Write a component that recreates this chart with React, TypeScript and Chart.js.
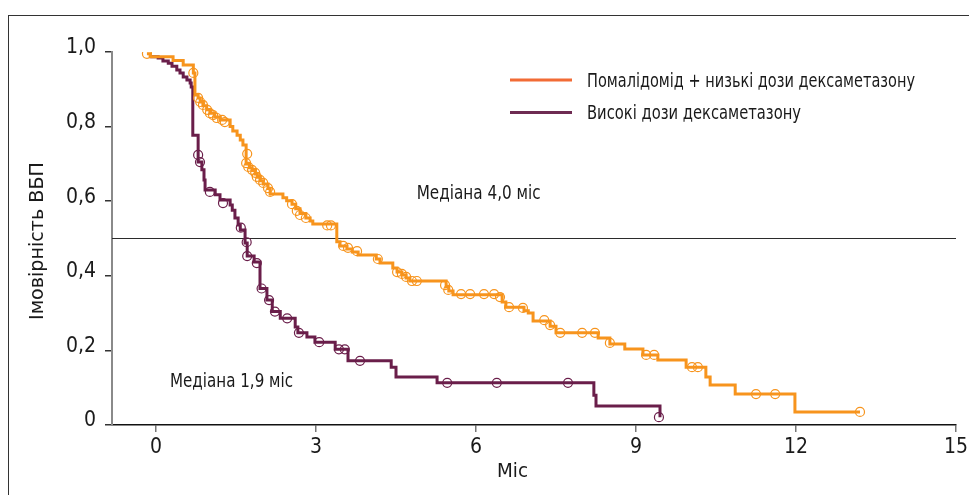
import React, { useEffect, useRef } from "react";
import { Chart, registerables } from "chart.js";

Chart.register(...registerables);

const FONT = "'Liberation Sans Narrow', 'DejaVu Sans Condensed', 'Liberation Sans', sans-serif";

// ---- axes ----
const xAxisMin = -0.825;
const xAxisMax = 15;
const xTickValues = [0, 3, 6, 9, 12, 15];
const yTickValues = [0, 0.2, 0.4, 0.6, 0.8, 1.0];
const yTickLabels = ["0", "0,2", "0,4", "0,6", "0,8", "1,0"];
const medianLevel = 0.5;

// ---- texts ----
const seriesNames = ["Помалідомід + низькі дози дексаметазону", "Високі дози дексаметазону"];
const medianNotes = ["Медіана 4,0 міс", "Медіана 1,9 міс"];
const xTitle = "Міс";
const yTitle = "Імовірність ВБП";

// ---- Pomalidomide + low-dose dexamethasone (step curve) ----
const pomTimes = [-0.17, -0.11, 0.32, 0.51, 0.70, 0.73, 0.79, 0.83, 0.88, 0.95, 1.01, 1.10, 1.20, 1.39, 1.44, 1.52, 1.58, 1.63, 1.69, 1.75, 1.80, 1.86, 1.90, 1.95, 2.01, 2.10, 2.14, 2.38, 2.45, 2.55, 2.62, 2.70, 2.81, 2.89, 2.94, 3.39, 3.45, 3.58, 3.68, 3.79, 4.13, 4.20, 4.44, 4.52, 4.61, 4.69, 4.76, 5.44, 5.49, 5.57, 6.49, 6.56, 6.90, 6.98, 7.07, 7.39, 7.50, 8.29, 8.51, 8.79, 9.13, 9.41, 9.94, 10.31, 10.39, 10.86, 11.98, 13.20];
const pomSurv = [0.995, 0.987, 0.977, 0.965, 0.944, 0.885, 0.877, 0.866, 0.856, 0.845, 0.836, 0.826, 0.818, 0.800, 0.788, 0.777, 0.764, 0.751, 0.700, 0.690, 0.682, 0.673, 0.664, 0.655, 0.646, 0.634, 0.619, 0.609, 0.601, 0.592, 0.580, 0.567, 0.555, 0.547, 0.539, 0.491, 0.480, 0.472, 0.464, 0.456, 0.445, 0.434, 0.421, 0.410, 0.402, 0.394, 0.386, 0.370, 0.359, 0.349, 0.330, 0.316, 0.306, 0.300, 0.279, 0.265, 0.247, 0.233, 0.217, 0.204, 0.188, 0.174, 0.155, 0.129, 0.107, 0.083, 0.035, 0.035];
const pomCensorTimes = [-0.17, 0.70, 0.79, 0.83, 0.88, 0.96, 1.01, 1.07, 1.14, 1.24, 1.29, 1.71, 1.69, 1.73, 1.80, 1.86, 1.89, 1.95, 2.01, 2.10, 2.14, 2.55, 2.64, 2.70, 2.81, 3.21, 3.28, 3.51, 3.60, 3.77, 4.16, 4.52, 4.61, 4.69, 4.80, 4.89, 5.42, 5.48, 5.72, 5.89, 6.15, 6.34, 6.45, 6.62, 6.88, 7.28, 7.39, 7.58, 7.99, 8.23, 8.51, 9.19, 9.34, 10.05, 10.16, 11.25, 11.61, 13.20];
const pomCensorSurv = [0.995, 0.944, 0.877, 0.866, 0.858, 0.845, 0.836, 0.831, 0.823, 0.818, 0.812, 0.727, 0.702, 0.692, 0.684, 0.676, 0.665, 0.657, 0.649, 0.635, 0.625, 0.592, 0.574, 0.563, 0.555, 0.535, 0.535, 0.480, 0.475, 0.466, 0.445, 0.410, 0.405, 0.397, 0.386, 0.386, 0.375, 0.362, 0.351, 0.351, 0.351, 0.351, 0.343, 0.316, 0.314, 0.281, 0.268, 0.247, 0.247, 0.247, 0.220, 0.188, 0.188, 0.155, 0.155, 0.083, 0.083, 0.035];

// ---- High-dose dexamethasone (step curve) ----
const dexTimes = [-0.11, 0.04, 0.13, 0.23, 0.30, 0.39, 0.45, 0.51, 0.58, 0.64, 0.66, 0.69, 0.79, 0.86, 0.90, 0.92, 1.11, 1.20, 1.39, 1.43, 1.48, 1.54, 1.58, 1.67, 1.71, 1.84, 1.95, 2.08, 2.18, 2.33, 2.61, 2.66, 2.83, 2.98, 3.36, 3.60, 4.41, 4.50, 5.27, 8.21, 8.25, 9.45];
const dexSurv = [0.987, 0.984, 0.976, 0.970, 0.962, 0.952, 0.944, 0.933, 0.925, 0.917, 0.906, 0.777, 0.705, 0.684, 0.657, 0.630, 0.617, 0.603, 0.590, 0.576, 0.555, 0.536, 0.523, 0.488, 0.453, 0.437, 0.366, 0.335, 0.304, 0.286, 0.263, 0.247, 0.236, 0.222, 0.203, 0.172, 0.155, 0.129, 0.113, 0.080, 0.051, 0.021];
const dexCensorTimes = [0.79, 0.825, 1.01, 1.256, 1.59, 1.70, 1.71, 1.89, 1.98, 2.12, 2.23, 2.46, 2.68, 3.06, 3.43, 3.54, 3.825, 5.46, 6.39, 7.725, 9.43];
const dexCensorSurv = [0.724, 0.705, 0.625, 0.595, 0.529, 0.490, 0.453, 0.434, 0.366, 0.335, 0.304, 0.286, 0.247, 0.222, 0.203, 0.203, 0.172, 0.113, 0.113, 0.113, 0.021];

// ---- colours ----
const ORANGE = "#F7941D";
const ORANGE_LEGEND = "#F26B35";
const PURPLE = "#6A1E4A";
const PURPLE_LEGEND = "#6E2B52";
const INK = "#1a1a1a";

const toPoints = (xs: number[], ys: number[]) => xs.map((x, i) => ({ x, y: ys[i] }));

function fitText(
  ctx: CanvasRenderingContext2D,
  text: string,
  x: number,
  baseline: number,
  width: number,
  size: number,
  rotate = 0
) {
  ctx.save();
  ctx.font = `${size}px ${FONT}`;
  ctx.fillStyle = INK;
  ctx.textAlign = "left";
  ctx.textBaseline = "alphabetic";
  const w = ctx.measureText(text).width;
  ctx.translate(x, baseline);
  if (rotate) ctx.rotate(rotate);
  ctx.scale(width / w, 1);
  ctx.fillText(text, 0, 0);
  ctx.restore();
}

const decorPlugin = {
  id: "decor",
  afterDraw(chart: any) {
    const ctx: CanvasRenderingContext2D = chart.ctx;
    // legend
    ctx.save();
    ctx.lineWidth = 3;
    ctx.strokeStyle = ORANGE_LEGEND;
    ctx.beginPath();
    ctx.moveTo(502, 72);
    ctx.lineTo(564, 72);
    ctx.stroke();
    ctx.strokeStyle = PURPLE_LEGEND;
    ctx.beginPath();
    ctx.moveTo(502, 104.5);
    ctx.lineTo(564, 104.5);
    ctx.stroke();
    ctx.restore();
    fitText(ctx, seriesNames[0], 579, 78.7, 328, 19);
    fitText(ctx, seriesNames[1], 579, 111, 214, 19);
    // median notes
    fitText(ctx, medianNotes[0], 408.7, 191.3, 124, 19);
    fitText(ctx, medianNotes[1], 162, 378.7, 123, 19);
    // axis titles
    fitText(ctx, xTitle, 489, 469, 31, 19);
    fitText(ctx, yTitle, 35, 312, 158, 19, -Math.PI / 2);
  },
};

export default function App() {
  const ref = useRef<HTMLCanvasElement>(null);
  useEffect(() => {
    const canvas = ref.current!;
    const chart = new Chart(canvas, {
      type: "line",
      data: {
        datasets: [
          {
            label: "median",
            data: [{ x: xAxisMin, y: medianLevel }, { x: xAxisMax, y: medianLevel }],
            borderColor: "#2b2b2b",
            borderWidth: 1,
            pointRadius: 0,
            order: 10,
          },
          {
            label: seriesNames[1],
            data: toPoints(dexTimes, dexSurv),
            stepped: "before",
            borderColor: PURPLE,
            borderWidth: 3,
            pointRadius: 0,
            order: 6,
          },
          {
            label: seriesNames[0],
            data: toPoints(pomTimes, pomSurv),
            stepped: "before",
            borderColor: ORANGE,
            borderWidth: 3,
            pointRadius: 0,
            order: 5,
          },
          {
            label: "dex censored",
            data: toPoints(dexCensorTimes, dexCensorSurv),
            showLine: false,
            pointStyle: "circle",
            pointRadius: 4.5,
            pointBorderWidth: 1.2,
            pointBorderColor: PURPLE,
            pointBackgroundColor: "rgba(0,0,0,0)",
            order: 2,
          },
          {
            label: "pom censored",
            data: toPoints(pomCensorTimes, pomCensorSurv),
            showLine: false,
            pointStyle: "circle",
            pointRadius: 4.5,
            pointBorderWidth: 1.2,
            pointBorderColor: ORANGE,
            pointBackgroundColor: "rgba(0,0,0,0)",
            order: 1,
          },
        ] as any,
      },
      options: {
        animation: false,
        responsive: false,
        devicePixelRatio: 1,
        events: [],
        layout: { padding: { left: 0, top: 44, right: 13, bottom: 0 } },
        plugins: { legend: { display: false }, tooltip: { enabled: false } },
        elements: { line: { tension: 0 } },
        scales: {
          x: {
            type: "linear",
            min: xAxisMin,
            max: xAxisMax,
            afterBuildTicks: (s: any) => {
              s.ticks = xTickValues.map((v) => ({ value: v }));
            },
            afterFit: (s: any) => {
              s.height = 70;
              s.paddingLeft = 0;
              s.paddingRight = 0;
            },
            grid: { display: true, drawOnChartArea: false, drawTicks: true, tickLength: 7, color: "#777", lineWidth: 1.5 },
            border: { display: true, color: "#111", width: 1.5 },
            ticks: {
              font: { family: FONT, size: 21 },
              color: INK,
              padding: 3,
              maxRotation: 0,
              autoSkip: false,
              callback: (v: any) => String(v),
            },
            title: { display: false },
          },
          y: {
            type: "linear",
            min: 0,
            max: 1,
            afterBuildTicks: (s: any) => {
              s.ticks = yTickValues.map((v) => ({ value: v }));
            },
            afterFit: (s: any) => {
              s.width = 104;
              s.paddingTop = 0;
              s.paddingBottom = 0;
            },
            grid: { display: true, drawOnChartArea: false, drawTicks: true, tickLength: 7, color: "#333", lineWidth: 1.5 },
            border: { display: true, color: "#8a8a8a", width: 2 },
            ticks: {
              font: { family: FONT, size: 21 },
              color: INK,
              padding: 9,
              labelOffset: -4,
              autoSkip: false,
              callback: (_v: any, i: number) => yTickLabels[i],
            },
            title: { display: false },
          },
        },
      } as any,
      plugins: [decorPlugin],
    });
    return () => chart.destroy();
  }, []);

  return (
    <div style={{ position: "relative", width: 961, height: 487 }}>
      <canvas
        ref={ref}
        width={961}
        height={487}
        style={{ position: "absolute", left: 0, top: 0, width: 961, height: 487, display: "block" }}
      />
      <div
        style={{
          position: "absolute",
          left: 0,
          top: 7,
          width: 969,
          height: 488,
          borderTop: "1px solid #333",
          borderLeft: "1px solid #333",
          boxSizing: "border-box",
          pointerEvents: "none",
        }}
      />
    </div>
  );
}
